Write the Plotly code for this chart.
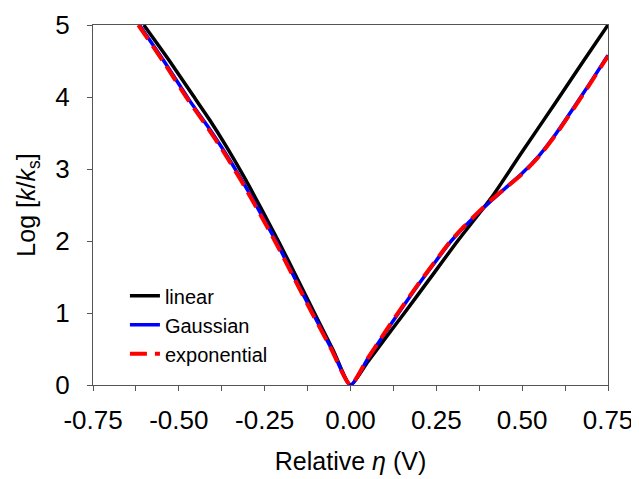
import plotly.graph_objects as go

# ---- data ----
linear_x = [-0.602, -0.53, -0.46, -0.41, -0.36, -0.31, -0.26, -0.209, -0.155, -0.105, -0.05, 0.0,
            0.05, 0.10, 0.157, 0.23, 0.312, 0.41, 0.50, 0.60, 0.68, 0.75]
linear_y = [5.0, 4.52, 4.03, 3.68, 3.30, 2.89, 2.45, 1.99, 1.48, 1.0, 0.48, 0.0,
            0.32, 0.64, 1.0, 1.47, 2.0, 2.60, 3.24, 3.94, 4.51, 5.0]

gauss_x = [-0.615, -0.542, -0.47, -0.417, -0.367, -0.317, -0.267, -0.215, -0.163, -0.11, -0.054, 0.0,
           0.05, 0.10, 0.14, 0.20, 0.25, 0.29, 0.33, 0.37, 0.41, 0.45, 0.50, 0.55, 0.60, 0.65, 0.70, 0.75]
gauss_y = [5.0, 4.49, 3.96, 3.60, 3.24, 2.85, 2.43, 1.98, 1.49, 1.0, 0.49, 0.0,
           0.36, 0.72, 1.0, 1.41, 1.73, 1.98, 2.19, 2.38, 2.56, 2.73, 2.94, 3.19, 3.50, 3.85, 4.21, 4.58]

expo_x = [-0.618, -0.545, -0.473, -0.42, -0.37, -0.32, -0.27, -0.218, -0.165, -0.112, -0.055, 0.0,
          0.05, 0.10, 0.138, 0.20, 0.25, 0.288, 0.33, 0.37, 0.41, 0.45, 0.50, 0.55, 0.60, 0.65, 0.70, 0.75]
expo_y = [5.0, 4.49, 3.96, 3.60, 3.24, 2.85, 2.43, 1.98, 1.49, 1.0, 0.49, 0.0,
          0.37, 0.73, 1.0, 1.42, 1.74, 1.98, 2.20, 2.39, 2.57, 2.73, 2.93, 3.18, 3.49, 3.84, 4.20, 4.57]

x_tickvals = [-0.75, -0.50, -0.25, 0.0, 0.25, 0.50, 0.75]
x_ticktext = ["-0.75", "-0.50", "-0.25", "0.00", "0.25", "0.50", "0.75"]
y_tickvals = [0, 1, 2, 3, 4, 5]
y_ticktext = ["0", "1", "2", "3", "4", "5"]

FONT = "Liberation Sans, Arial, Helvetica, sans-serif"

fig = go.Figure()
fig.add_trace(go.Scatter(x=linear_x, y=linear_y, mode="lines", name="linear",
                         line=dict(color="black", width=3.5, shape="spline", smoothing=0.6)))
fig.add_trace(go.Scatter(x=gauss_x, y=gauss_y, mode="lines", name="Gaussian",
                         line=dict(color="#0000ff", width=3.5, shape="spline", smoothing=0.6)))
fig.add_trace(go.Scatter(x=expo_x, y=expo_y, mode="lines", name="exponential",
                         line=dict(color="#ff0000", width=4, dash="17px,8px",
                                   shape="spline", smoothing=0.6)))

axis_common = dict(showgrid=False, zeroline=False, showline=True, linecolor="#555555",
                   linewidth=1, mirror=True, ticks="outside", ticklen=5, tickcolor="#555555",
                   automargin=False,
                   tickfont=dict(family=FONT, size=26, color="black"))

fig.update_xaxes(range=[-0.75, 0.75], tickvals=x_tickvals, ticktext=x_ticktext,
                 minor=dict(dtick=0.125, tick0=-0.75, ticks="outside", ticklen=5, tickcolor="#555555"),
                 title=dict(text="Relative <i>η</i> (V)", font=dict(family=FONT, size=25, color="black"),
                            standoff=18),
                 ticklabelstandoff=7, **axis_common)
fig.update_yaxes(range=[0, 5], tickvals=y_tickvals, ticktext=y_ticktext,
                 title=dict(text="Log [<i>k</i>/<i>k</i><sub>s</sub>]",
                            font=dict(family=FONT, size=25, color="black"), standoff=12),
                 ticklabelstandoff=12, **axis_common)

# page body has an 8px margin, so the figure is sized/offset to land the
# plot area where the reference has it
fig.update_layout(
    width=631, height=471,
    margin=dict(l=85, r=31, t=17, b=94),
    paper_bgcolor="white", plot_bgcolor="white",
    font=dict(family=FONT, color="black"),
    legend=dict(x=0.062, y=0.302, xanchor="left", yanchor="top",
                bgcolor="rgba(0,0,0,0)", font=dict(family=FONT, size=20, color="black"),
                tracegroupgap=0),
)

fig.write_html("out.html")
